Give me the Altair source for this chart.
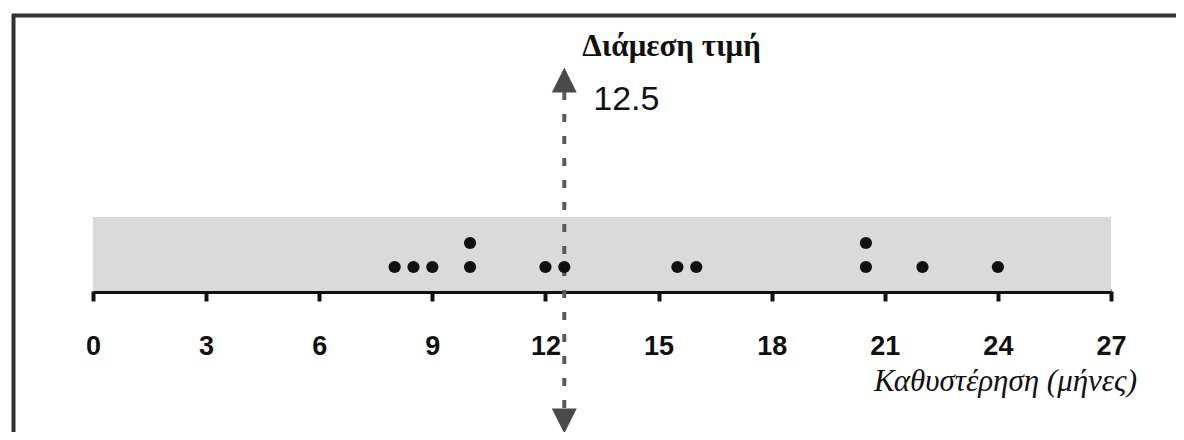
import altair as alt
import pandas as pd

# ---- data ----
delays = [8, 8.5, 9, 10, 10, 12, 12.5, 15.5, 16, 20.5, 20.5, 22, 24]
tick_values = [0, 3, 6, 9, 12, 15, 18, 21, 24, 27]
median_value = [12.5]
x_range = [0, 27]
median_title = "Διάμεση τιμή"
median_label = "12.5"
x_title = "Καθυστέρηση (μήνες)"

df = pd.DataFrame({"delay": delays})
df["level"] = df.groupby("delay").cumcount() + 1
med = pd.DataFrame({"m": median_value})
rng = pd.DataFrame({"a": [x_range[0]], "b": [x_range[1]]})

W, H = 1018, 276
STEP = 24
xs = alt.Scale(domain=x_range, nice=False, zero=False)
ys = alt.Scale(domain=[0, H / STEP], nice=False, zero=False)
ax = alt.Axis(values=tick_values, title=None, grid=False, format="d",
              labelFont="Liberation Sans", labelFontSize=27, labelFontWeight="bold",
              labelColor="#111111", labelPadding=32, labelFlush=False, labelOverlap=False,
              tickSize=10, tickWidth=4, tickColor="#111111",
              domainWidth=5, domainColor="#111111")

band = alt.Chart(rng).mark_rect(color="#dadada").encode(
    x=alt.X("a:Q", scale=xs, axis=ax), x2="b:Q",
    y=alt.value(202), y2=alt.value(H))

frame_left = alt.Chart(rng).mark_rule(color="#333333", strokeWidth=4).encode(
    x=alt.value(-79.5), y=alt.value(-1), y2=alt.value(430))
frame_top = alt.Chart(rng).mark_rule(color="#333333", strokeWidth=4).encode(
    x=alt.value(-81), x2=alt.value(1100), y=alt.value(0.5))

median_line = alt.Chart(med).mark_rule(color="#5a5a5a", strokeWidth=4, strokeDash=[8, 14]).encode(
    x=alt.X("m:Q", scale=xs, axis=ax), y=alt.value(77), y2=alt.value(393))

arrow_up = alt.Chart(med).mark_point(shape="M0,-1L-1,1L1,1Z", filled=True, size=620,
                                     color="#4a4a4a", opacity=1).encode(
    x=alt.X("m:Q", scale=xs, axis=ax), y=alt.value(65))
arrow_down = alt.Chart(med).mark_point(shape="M0,1L-1,-1L1,-1Z", filled=True, size=620,
                                       color="#4a4a4a", opacity=1).encode(
    x=alt.X("m:Q", scale=xs, axis=ax), y=alt.value(406))

points = alt.Chart(df).mark_circle(color="#111111", size=150, opacity=1).encode(
    x=alt.X("delay:Q", scale=xs, axis=ax),
    y=alt.Y("level:Q", scale=ys, axis=None))

title_txt = alt.Chart(med).mark_text(align="left", baseline="alphabetic", dx=18,
                                     font="Liberation Serif", fontSize=31, fontWeight="bold",
                                     color="#111111").encode(
    x=alt.X("m:Q", scale=xs, axis=ax), y=alt.value(41), text=alt.value(median_title))
label_txt = alt.Chart(med).mark_text(align="left", baseline="alphabetic", dx=29,
                                     font="Liberation Sans", fontSize=34,
                                     color="#111111").encode(
    x=alt.X("m:Q", scale=xs, axis=ax), y=alt.value(95), text=alt.value(median_label))
xtitle_txt = alt.Chart(rng).mark_text(align="right", baseline="alphabetic", dx=26,
                                      font="Liberation Serif", fontSize=31, fontStyle="italic",
                                      color="#111111").encode(
    x=alt.X("b:Q", scale=xs, axis=ax), y=alt.value(376), text=alt.value(x_title))

chart = alt.layer(band, frame_left, frame_top, median_line, arrow_up, arrow_down,
                  points, title_txt, label_txt, xtitle_txt).properties(
    width=W, height=H, autosize="none",
    padding={"left": 85, "top": 7, "right": 65, "bottom": 141},
    background="white",
).configure_view(stroke=None)

chart.save("out.html", embed_options={"renderer": "svg", "actions": False})
